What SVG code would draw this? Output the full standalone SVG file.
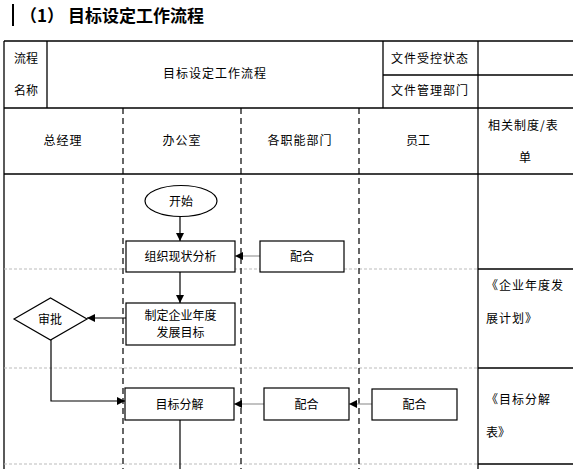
<svg xmlns="http://www.w3.org/2000/svg" width="573" height="469" viewBox="0 0 573 469">
<style>
text{font-family:"Noto Sans CJK SC","Liberation Sans",sans-serif;font-size:12px;fill:#000}
.c{text-anchor:middle}
.t{font-size:17px;font-weight:bold}
.b{fill:none;stroke:#000;stroke-width:1.3}
.box{fill:#fff;stroke:#000;stroke-width:1.2}
.lane{stroke:#000;stroke-width:1.2;stroke-dasharray:6,4}
.row{stroke:#bbb;stroke-width:1;stroke-dasharray:3,2}
.cn{fill:none;stroke:#000;stroke-width:1.2}
.cg{fill:none;stroke:#999;stroke-width:1.2}
</style>
<defs>
<marker id="ah" viewBox="0 0 10 10" refX="10" refY="5" markerWidth="8" markerHeight="8" orient="auto" markerUnits="userSpaceOnUse"><path d="M0,0L10,5L0,10z" fill="#000"/></marker>
</defs>
<g id="title">
<rect x="12" y="4" width="2" height="22" fill="#000"/>
<text x="20" y="22" class="t">（1）  目标设定工作流程</text>
</g>
<g id="table">
<line class="b" x1="4" y1="41" x2="573" y2="41"/>
<line class="b" x1="4" y1="41" x2="4" y2="469"/>
<line class="b" x1="47" y1="41" x2="47" y2="108"/>
<line class="b" x1="383" y1="41" x2="383" y2="108"/>
<line class="b" x1="478" y1="41" x2="478" y2="469"/>
<line class="b" x1="383" y1="75" x2="573" y2="75"/>
<line class="b" x1="4" y1="108" x2="573" y2="108"/>
<line class="b" x1="4" y1="174" x2="573" y2="174"/>
<line class="b" x1="478" y1="269" x2="573" y2="269"/>
<line class="b" x1="478" y1="368" x2="573" y2="368"/>
<line class="b" x1="478" y1="464" x2="573" y2="464"/>
<line class="row" x1="4" y1="269" x2="478" y2="269"/>
<line class="row" x1="4" y1="368" x2="478" y2="368"/>
<line class="row" x1="4" y1="464" x2="478" y2="464"/>
<line class="lane" x1="123" y1="108" x2="123" y2="469"/>
<line class="lane" x1="241" y1="108" x2="241" y2="469"/>
<line class="lane" x1="359" y1="108" x2="359" y2="469"/>
<text x="26" y="63" class="c">流程</text>
<text x="26" y="95" class="c">名称</text>
<text x="215" y="78" class="c" letter-spacing="1">目标设定工作流程</text>
<text x="430" y="63" class="c" letter-spacing="1">文件受控状态</text>
<text x="430" y="95" class="c" letter-spacing="1">文件管理部门</text>
<text x="63" y="145" class="c" letter-spacing="1">总经理</text>
<text x="182" y="145" class="c" letter-spacing="1">办公室</text>
<text x="300" y="145" class="c" letter-spacing="1">各职能部门</text>
<text x="418" y="145" class="c">员工</text>
<text x="488" y="130" letter-spacing="1">相关制度/表</text>
<text x="525" y="162" class="c">单</text>
<text x="486" y="290" letter-spacing="1">《企业年度发</text>
<text x="486" y="323" letter-spacing="1">展计划》</text>
<text x="486" y="404" letter-spacing="1">《目标分解</text>
<text x="486" y="437">表》</text>
</g>
<g id="connectors">
<line class="cn" x1="180" y1="216" x2="180" y2="241" marker-end="url(#ah)"/>
<line class="cg" x1="260" y1="256" x2="235" y2="256" marker-end="url(#ah)"/>
<line class="cn" x1="180" y1="272" x2="180" y2="303" marker-end="url(#ah)"/>
<line class="cn" x1="126" y1="318" x2="87" y2="318" marker-end="url(#ah)"/>
<polyline class="cn" points="51,340 51,401 125,401" marker-end="url(#ah)"/>
<line class="cg" x1="264" y1="404" x2="234" y2="404" marker-end="url(#ah)"/>
<line class="cg" x1="372" y1="404" x2="349" y2="404" marker-end="url(#ah)"/>
<line class="cn" x1="180" y1="420" x2="180" y2="469"/>
</g>
<g id="n-start"><ellipse class="box" cx="181" cy="201" rx="36" ry="15.5"/><text x="181" y="205.5" class="c">开始</text></g>
<g id="n-analyze"><rect class="box" x="126" y="241" width="109" height="31"/><text x="180.5" y="261" class="c">组织现状分析</text></g>
<g id="n-coop1"><rect class="box" x="260" y="241" width="84" height="31"/><text x="302" y="261" class="c">配合</text></g>
<g id="n-goal"><rect class="box" x="126" y="303" width="109" height="42"/><text x="180.5" y="320" class="c">制定企业年度</text><text x="180.5" y="337" class="c">发展目标</text></g>
<g id="n-approve"><polygon class="box" points="14,319 50.5,298 87,319 50.5,340"/><text x="50" y="323.5" class="c">审批</text></g>
<g id="n-split"><rect class="box" x="125" y="388" width="109" height="32"/><text x="179.5" y="408.5" class="c">目标分解</text></g>
<g id="n-coop2"><rect class="box" x="264" y="388" width="85" height="32"/><text x="306.5" y="408.5" class="c">配合</text></g>
<g id="n-coop3"><rect class="box" x="372" y="389" width="85" height="31"/><text x="414.5" y="408.5" class="c">配合</text></g>
</svg>
